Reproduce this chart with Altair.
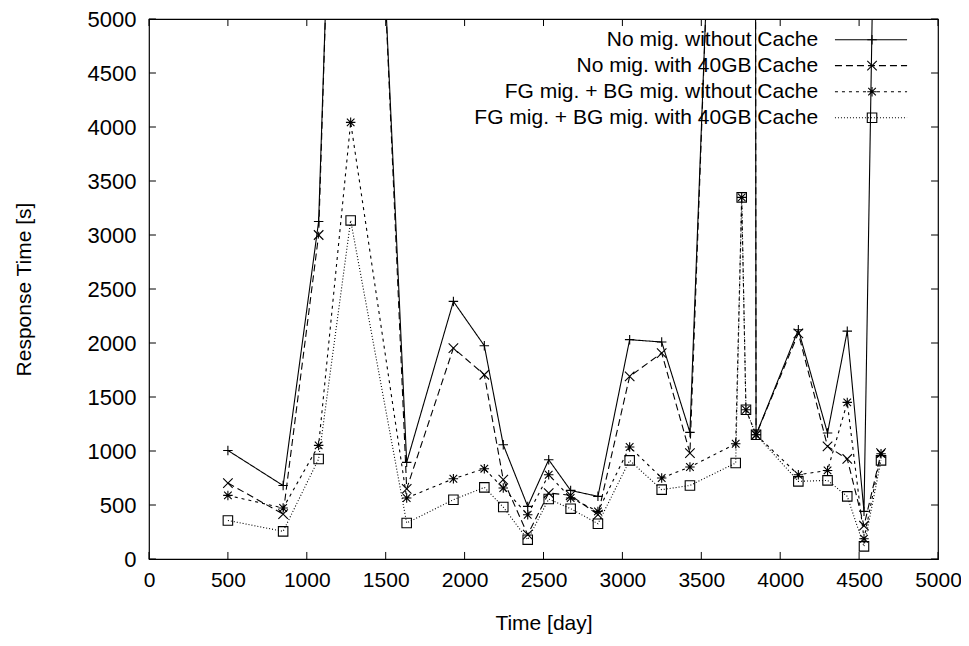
import altair as alt
import pandas as pd

# ---- data ----
series_names = [
    "No mig. without Cache",
    "No mig. with 40GB Cache",
    "FG mig. + BG mig. without Cache",
    "FG mig. + BG mig. with 40GB Cache",
]

days_nomig = [500, 850, 1075, 1278, 1633, 1929, 2125, 2245, 2400, 2533, 2672, 2845,
              3046, 3249, 3428, 3835, 3847, 4115, 4300, 4425, 4531, 4639]
nomig_nocache = [1005, 680, 3125, 12300, 895, 2385, 1975, 1058, 487, 919, 635, 580,
                 2031, 2009, 1172, 17000, 1150, 2123, 1166, 2110, 441, 10000]
nomig_cache = [703, 416, 3000, 12600, 650, 1953, 1706, 734, 225, 611, 590, 410,
               1691, 1907, 981, 17500, 1150, 2090, 1043, 926, 308, 980]

days_fg = [500, 850, 1075, 1278, 1633, 1929, 2125, 2245, 2400, 2533, 2672, 2845,
           3046, 3249, 3428, 3718, 3756, 3783, 3847, 4115, 4300, 4425, 4531, 4639]
fg_nocache = [589, 472, 1052, 4043, 565, 743, 836, 657, 410, 780, 565, 441,
              1037, 750, 852, 1067, 3348, 1382, 1150, 780, 820, 1450, 188, 975]
fg_cache = [357, 256, 926, 3135, 333, 549, 663, 481, 179, 555, 466, 327,
            913, 642, 681, 889, 3348, 1382, 1150, 719, 728, 580, 117, 913]

tick_values = [0, 500, 1000, 1500, 2000, 2500, 3000, 3500, 4000, 4500, 5000]

# ---- styling ----
FONT = "Liberation Sans"
dashes = [[1, 0], [7, 4], [3, 4], [1, 2]]
shapes = [
    "M-1,0L1,0M0,-1L0,1",
    "M-1,-1L1,1M-1,1L1,-1",
    "M-1,0L1,0M0,-1L0,1M-0.8,-0.8L0.8,0.8M-0.8,0.8L0.8,-0.8",
    "M-1,-1L1,-1L1,1L-1,1Z",
]

frames = []
for name, xs, ys in [
    (series_names[0], days_nomig, nomig_nocache),
    (series_names[1], days_nomig, nomig_cache),
    (series_names[2], days_fg, fg_nocache),
    (series_names[3], days_fg, fg_cache),
]:
    frames.append(pd.DataFrame({"series": name, "day": xs, "resp": ys}))
df = pd.concat(frames, ignore_index=True)

xscale = alt.Scale(domain=[0, 5000], nice=False, zero=False)
yscale = alt.Scale(domain=[0, 5000], nice=False, zero=False)
dash_scale = alt.Scale(domain=series_names, range=dashes)
shape_scale = alt.Scale(domain=series_names, range=shapes)

xaxis = alt.Axis(values=tick_values, format="d", ticks=False, domain=False, grid=False,
                 labelFont=FONT, labelFontSize=21, labelColor="black",
                 labelPadding=10, title="Time [day]", titleFont=FONT,
                 titleFontSize=21, titleFontWeight="normal", titleColor="black",
                 titlePadding=22, labelFlush=False, labelOverlap=False)
yaxis = alt.Axis(values=tick_values, format="d", ticks=False, domain=False, grid=False,
                 labelFont=FONT, labelFontSize=22, labelColor="black",
                 labelPadding=13, title="Response Time [s]", titleFont=FONT,
                 titleFontSize=21, titleFontWeight="normal", titleColor="black",
                 titlePadding=53, labelFlush=False, labelOverlap=False)

base = alt.Chart(df)
lines = base.mark_line(clip=True, color="black", strokeWidth=1.1).encode(
    x=alt.X("day:Q", scale=xscale, axis=xaxis),
    y=alt.Y("resp:Q", scale=yscale, axis=yaxis),
    detail="series:N",
    strokeDash=alt.StrokeDash("series:N", scale=dash_scale, legend=None),
    order="day:Q",
)
points = base.mark_point(clip=True, filled=False, color="black", size=90,
                         strokeWidth=1.1, opacity=1).encode(
    x=alt.X("day:Q", scale=xscale),
    y=alt.Y("resp:Q", scale=yscale),
    shape=alt.Shape("series:N", scale=shape_scale, legend=None),
)

# inward tick marks on all four sides (in data units)
tdf = pd.DataFrame({"t": tick_values})
tick_len_y = 65
tick_len_x = 44
tb = alt.Chart(tdf)
ticks_bottom = tb.mark_rule(color="black", strokeWidth=1).encode(
    x=alt.X("t:Q", scale=xscale), y=alt.datum(0), y2=alt.datum(tick_len_y))
ticks_top = tb.mark_rule(color="black", strokeWidth=1).encode(
    x=alt.X("t:Q", scale=xscale), y=alt.datum(5000 - tick_len_y), y2=alt.datum(5000))
ticks_left = tb.mark_rule(color="black", strokeWidth=1).encode(
    y=alt.Y("t:Q", scale=yscale), x=alt.datum(0), x2=alt.datum(tick_len_x))
ticks_right = tb.mark_rule(color="black", strokeWidth=1).encode(
    y=alt.Y("t:Q", scale=yscale), x=alt.datum(5000 - tick_len_x), x2=alt.datum(5000))

# legend (top right inside the plot), placed in data units
legend_rows = [4808, 4568, 4327, 4086]
ldf = pd.DataFrame({
    "series": series_names,
    "ly": legend_rows,
    "tx": 4240,
    "lx1": 4347,
    "lx2": 4804,
    "mx": 4582,
})
lb = alt.Chart(ldf)
leg_text = lb.mark_text(align="right", baseline="middle", font=FONT,
                        fontSize=21, color="black").encode(
    x=alt.X("tx:Q", scale=xscale), y=alt.Y("ly:Q", scale=yscale), text="series:N")
leg_line = lb.mark_rule(color="black", strokeWidth=1.1).encode(
    x=alt.X("lx1:Q", scale=xscale), x2="lx2:Q", y=alt.Y("ly:Q", scale=yscale),
    strokeDash=alt.StrokeDash("series:N", scale=dash_scale, legend=None))
leg_pt = lb.mark_point(filled=False, color="black", size=90, strokeWidth=1.1,
                       opacity=1).encode(
    x=alt.X("mx:Q", scale=xscale), y=alt.Y("ly:Q", scale=yscale),
    shape=alt.Shape("series:N", scale=shape_scale, legend=None))

chart = alt.layer(
    lines, points, ticks_bottom, ticks_top, ticks_left, ticks_right,
    leg_line, leg_pt, leg_text,
).properties(
    width=789, height=540,
    autosize=alt.AutoSizeParams(type="none"),
    padding={"left": 141, "top": 11, "right": 23, "bottom": 79},
    background="white",
).configure_view(
    stroke="black", strokeWidth=1.2
)

chart.save("out.html", embed_options={"renderer": "svg", "actions": False})
